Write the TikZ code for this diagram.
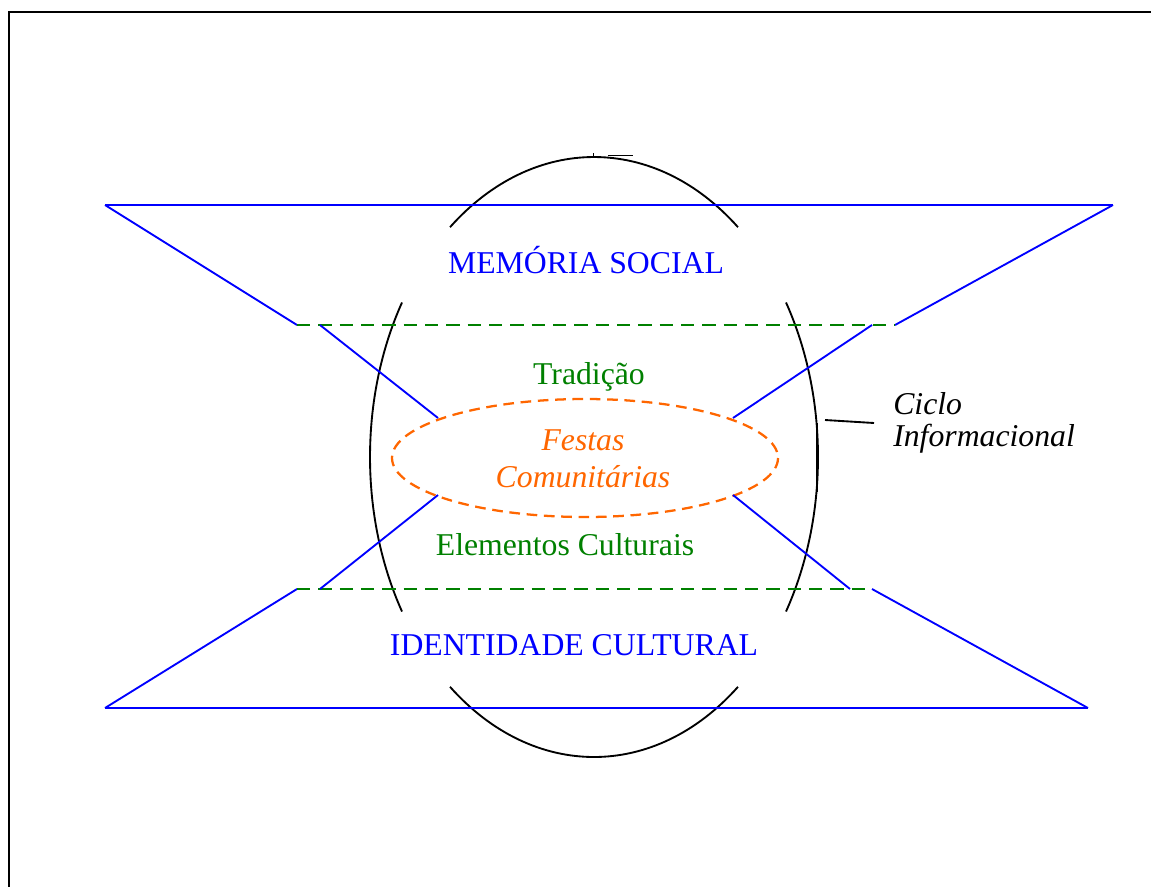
\documentclass[tikz,border=0pt]{standalone}
\usepackage{fontspec}
\setmainfont{Liberation Serif}
\usepackage{tikz}

\definecolor{cblue}{RGB}{0,0,255}
\definecolor{cgreen}{RGB}{0,128,0}
\definecolor{corange}{RGB}{255,102,0}

\tikzset{
  bluel/.style={draw=cblue,line width=1.4pt},
  greendash/.style={draw=cgreen,line width=1.7pt,dash pattern=on 10pt off 6pt},
  ciclo/.style={draw=black,line width=1.4pt},
  bigtxt/.style={inner sep=0.75pt,font=\fontsize{23.8}{28}\selectfont},
}

\begin{document}
\begin{tikzpicture}[x=0.75pt,y=0.75pt,yscale=-1,xscale=1]
\useasboundingbox (0,0) rectangle (1151,886);
%frame
\begin{scope}
\clip (0,0) rectangle (1151,886);
\draw[line width=1.8pt] (9,12) rectangle (1170,900);
\end{scope}

\coordinate (cic) at (594,457);
%Ciclo arcs
\draw[ciclo] ([shift={(230:224 and 300)}]cic) arc[start angle=230,end angle=310,x radius=224,y radius=300];
\draw[ciclo] ([shift={(50:224 and 300)}]cic) arc[start angle=50,end angle=130,x radius=224,y radius=300];
\draw[ciclo] ([shift={(149:224 and 300)}]cic) arc[start angle=149,end angle=211,x radius=224,y radius=300];
\draw[ciclo] ([shift={(-31:224 and 300)}]cic) arc[start angle=-31,end angle=31,x radius=224,y radius=300];
\draw[ciclo] (817,423) -- (817,492) ;
\draw[line width=0.4pt] (593,153) -- (593,157) ;
\draw[line width=1.4pt] (608,155.5) -- (633,155.5) ;

%Festas ellipse
\draw[corange,line width=1.7pt,dash pattern=on 8pt off 5pt] (585,458) ellipse [x radius=193,y radius=59];

%top trapezoid
\coordinate (tl) at (105,205);
\coordinate (tr) at (1113,205);
\coordinate (ml) at (297,325);
\coordinate (mr) at (895,325);
\draw[bluel] (tl) -- (tr) ;
\draw[bluel] (tl) -- (ml) ;
\draw[bluel] (tr) -- (mr) ;
\draw[greendash] (ml) -- (mr) ;

%bottom trapezoid
\coordinate (bl) at (105,708);
\coordinate (br) at (1088,708);
\coordinate (nl) at (297,589);
\coordinate (nr) at (872,589);
\draw[bluel] (bl) -- (br) ;
\draw[bluel] (bl) -- (nl) ;
\draw[bluel] (br) -- (nr) ;
\draw[greendash] (nl) -- (nr) ;

%inner lines
\draw[bluel] (320,325) -- (438,418) ;
\draw[bluel] (872,325) -- (733,418) ;
\draw[bluel] (438,495) -- (320,589) ;
\draw[bluel] (733,495) -- (850,589) ;

%leader
\draw[line width=1.4pt] (825,420) -- (874,423) ;

% Text Nodes
\node[bigtxt,text=cblue] (mem) at (586,260) {MEMÓRIA SOCIAL};
\node[bigtxt,text=cblue] (ide) at (574,645) {IDENTIDADE CULTURAL};
\node[bigtxt,text=cgreen] (tra) at (589,377) {Tradição};
\node[bigtxt,text=cgreen] (ele) at (565,545) {Elementos Culturais};
\node[bigtxt,text=corange,font=\fontsize{23.8}{28}\selectfont\itshape] (fes) at (583,440) {Festas};
\node[bigtxt,text=corange,font=\fontsize{23.8}{28}\selectfont\itshape] (com) at (583,477) {Comunitárias};
\node[bigtxt,anchor=west,font=\fontsize{23.8}{28}\selectfont\itshape] (cic1) at (892,404) {Ciclo};
\node[bigtxt,anchor=west,font=\fontsize{23.8}{28}\selectfont\itshape] (cic2) at (892,439) {Informacional};

\end{tikzpicture}
\end{document}
